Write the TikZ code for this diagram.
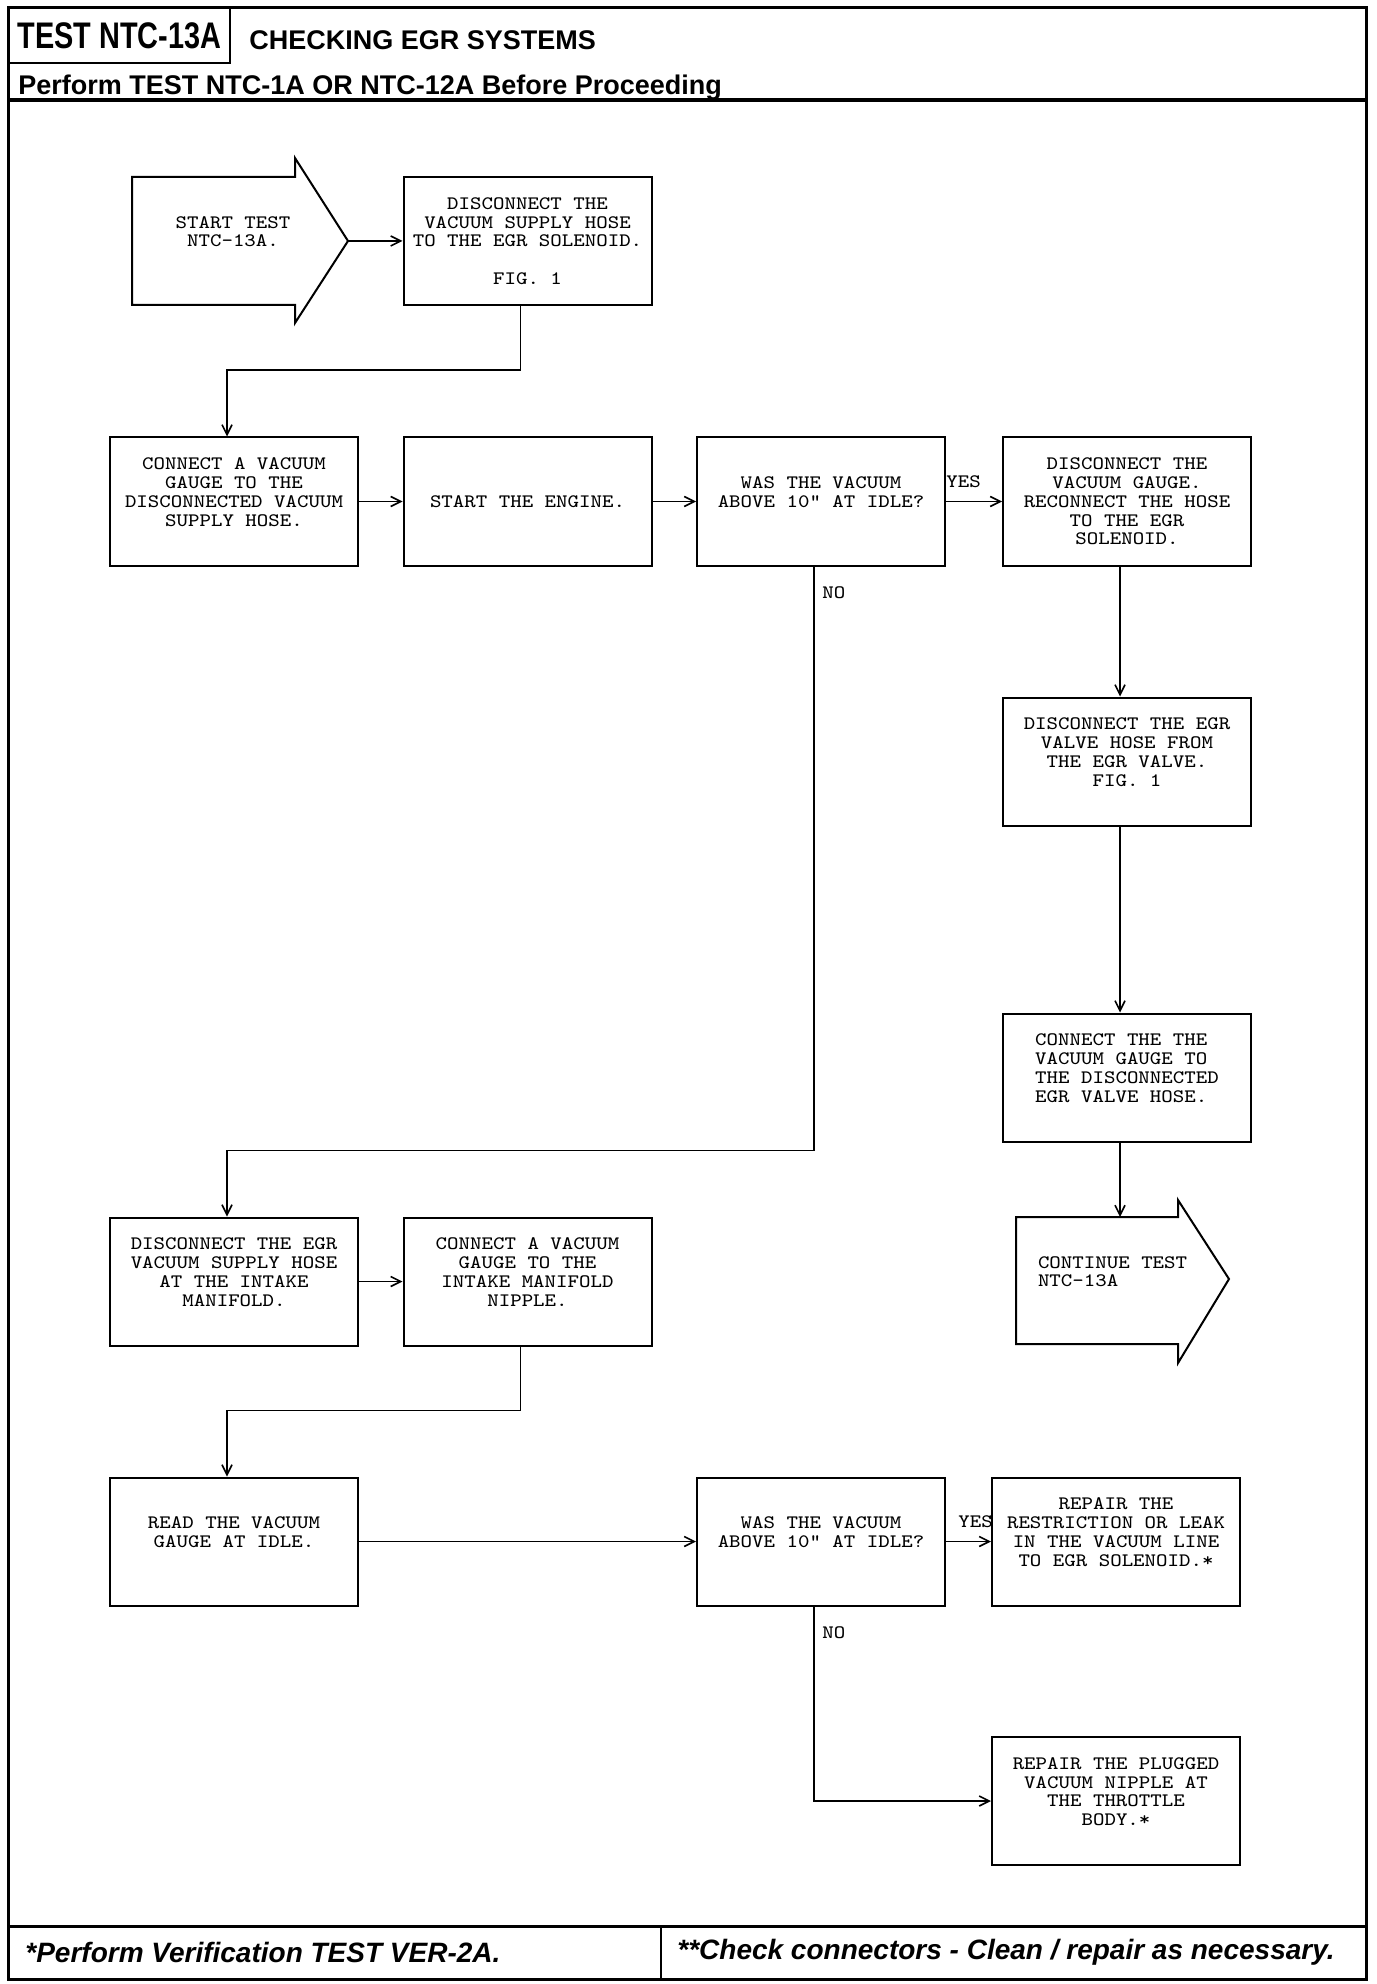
\documentclass[tikz,border=0pt]{standalone}
\usepackage{fontspec}
\usepackage{tikz}
\usetikzlibrary{arrows.meta}
\setmainfont{Liberation Sans}
\newfontfamily\boxfont{Latin Modern Mono}[FakeStretch=1.15]
\newfontfamily\headfont{Liberation Sans}[FakeStretch=0.78]

\begin{document}
\begin{tikzpicture}[x = 0.5pt, y = -0.5pt,
		stepbox/.style = {draw, line width = 1pt, minimum width = 124pt, minimum height = 64pt, inner sep = 0pt, align = center, font = \boxfont\fontsize{9.5pt}{9.4pt}\selectfont},
		answer/.style = {inner sep = 0pt, anchor = west, font = \boxfont\fontsize{9.5pt}{9.4pt}\selectfont},
		flow/.style = {line width = 0.8pt, -{Straight Barb[length = 5pt, width = 5pt]}}]
		
		\useasboundingbox (0, 0) rectangle (1376, 1984);
		
		\draw[line width = 1.5pt] (8, 8) rectangle (1366, 1979);
		\draw[line width = 2pt] (8, 100) -- (1366, 100);
		\draw[line width = 1.5pt] (8, 1926) -- (1366, 1926);
		\draw[line width = 1pt] (661, 1926) -- (661, 1979);
		
		\node[draw, line width = 1pt, minimum width = 110.5pt, minimum height = 27.5pt, inner sep = 0pt, font = \headfont\bfseries\fontsize{18.5pt}{21pt}\selectfont] (testid) at (119.5, 35.5) {TEST NTC-13A};
		\node[anchor = base west, inner sep = 0pt, font = \bfseries\fontsize{13.5pt}{15pt}\selectfont] (title) at (249, 50) {CHECKING EGR SYSTEMS};
		\node[anchor = base west, inner sep = 0pt, font = \bfseries\fontsize{13.5pt}{15pt}\selectfont] (before) at (18, 95) {Perform TEST NTC-1A OR NTC-12A Before Proceeding};
		\node[anchor = west, inner sep = 0pt, font = \bfseries\itshape\fontsize{14pt}{16pt}\selectfont] (verify) at (25, 1952) {*Perform Verification TEST VER-2A.};
		\node[anchor = west, inner sep = 0pt, font = \bfseries\itshape\fontsize{14pt}{16pt}\selectfont] (check) at (677, 1952) {**Check connectors - Clean / repair as necessary.};
		
		\draw[line width = 1pt] (132, 177) -- (295, 177) -- (295, 158) -- (348, 241) -- (295, 323) -- (295, 305) -- (132, 305) -- cycle;
		\coordinate (start tip) at (348, 241);
		\node[stepbox, draw = none, minimum width = 0pt, minimum height = 0pt] (start) at (233, 241) {START TEST\\NTC-13A.\\~};
		
		\draw[line width = 1pt] (1016, 1217) -- (1178, 1217) -- (1178, 1200) -- (1229, 1279) -- (1178, 1363) -- (1178, 1344) -- (1016, 1344) -- cycle;
		\coordinate (cont in) at (1120, 1217);
		\node[stepbox, draw = none, minimum width = 0pt, minimum height = 0pt, align = left, anchor = west] (cont) at (1037, 1281) {CONTINUE TEST\\NTC-13A\\~};
		
		\node[stepbox] (unhook) at (527.5, 241) {DISCONNECT THE\\VACUUM SUPPLY HOSE\\TO THE EGR SOLENOID.\\~\\FIG. 1};
		
		\node[stepbox] (gauge) at (234, 501.5) {CONNECT A VACUUM\\GAUGE TO THE\\DISCONNECTED VACUUM\\SUPPLY HOSE.\\~};
		\node[stepbox] (engine) at (527.5, 501.5) {START THE ENGINE.};
		\node[stepbox] (ask1) at (821, 501.5) {WAS THE VACUUM\\ABOVE 10" AT IDLE?\\~};
		\node[stepbox] (rehook) at (1127, 501.5) {DISCONNECT THE\\VACUUM GAUGE.\\RECONNECT THE HOSE\\TO THE EGR\\SOLENOID.};
		
		\node[stepbox] (valve) at (1127, 761.5) {DISCONNECT THE EGR\\VALVE HOSE FROM\\THE EGR VALVE.\\FIG. 1\\~};
		\node[stepbox, align = left] (valvegauge) at (1127, 1077.5) {CONNECT THE THE\\VACUUM GAUGE TO\\THE DISCONNECTED\\EGR VALVE HOSE.\\~};
		
		\node[stepbox] (intake) at (234, 1281.5) {DISCONNECT THE EGR\\VACUUM SUPPLY HOSE\\AT THE INTAKE\\MANIFOLD.\\~};
		\node[stepbox] (nipple) at (527.5, 1281.5) {CONNECT A VACUUM\\GAUGE TO THE\\INTAKE MANIFOLD\\NIPPLE.\\~};
		
		\node[stepbox] (read) at (234, 1541.5) {READ THE VACUUM\\GAUGE AT IDLE.\\~};
		\node[stepbox] (ask2) at (821, 1541.5) {WAS THE VACUUM\\ABOVE 10" AT IDLE?\\~};
		\node[stepbox] (leak) at (1116, 1541.5) {REPAIR THE\\RESTRICTION OR LEAK\\IN THE VACUUM LINE\\TO EGR SOLENOID.*\\~};
		\node[stepbox] (plugged) at (1116, 1801) {REPAIR THE PLUGGED\\VACUUM NIPPLE AT\\THE THROTTLE\\BODY.*\\~};
		
		\draw[flow] (start tip) -- (unhook.west);
		\draw[flow] ([xshift = -3.5pt]unhook.south) -- ++(0, 64) -| ([xshift = -3.5pt]gauge.north);
		\draw[flow] (gauge) -- (engine);
		\draw[flow] (engine) -- (ask1);
		\draw[flow] (ask1) -- (rehook);
		\draw[flow] ([xshift = -3.5pt]rehook.south) -- ([xshift = -3.5pt]valve.north);
		\draw[flow] ([xshift = -3.5pt]valve.south) -- ([xshift = -3.5pt]valvegauge.north);
		\draw[flow] ([xshift = -3.5pt]valvegauge.south) -- (cont in);
		\draw[flow] ([xshift = -3.5pt]ask1.south) -- ++(0, 584) -| ([xshift = -3.5pt]intake.north);
		\draw[flow] (intake) -- (nipple);
		\draw[flow] ([xshift = -3.5pt]nipple.south) -- ++(0, 64) -| ([xshift = -3.5pt]read.north);
		\draw[flow] (read) -- (ask2);
		\draw[flow] (ask2) -- (leak);
		\draw[flow] ([xshift = -3.5pt]ask2.south) |- (plugged.west);
		
		\node[answer] (yes1) at (946, 482) {YES};
		\node[answer] (no1) at (822, 593) {NO};
		\node[answer] (yes2) at (958, 1522) {YES};
		\node[answer] (no2) at (822, 1633) {NO};
	\end{tikzpicture}
\end{document}
